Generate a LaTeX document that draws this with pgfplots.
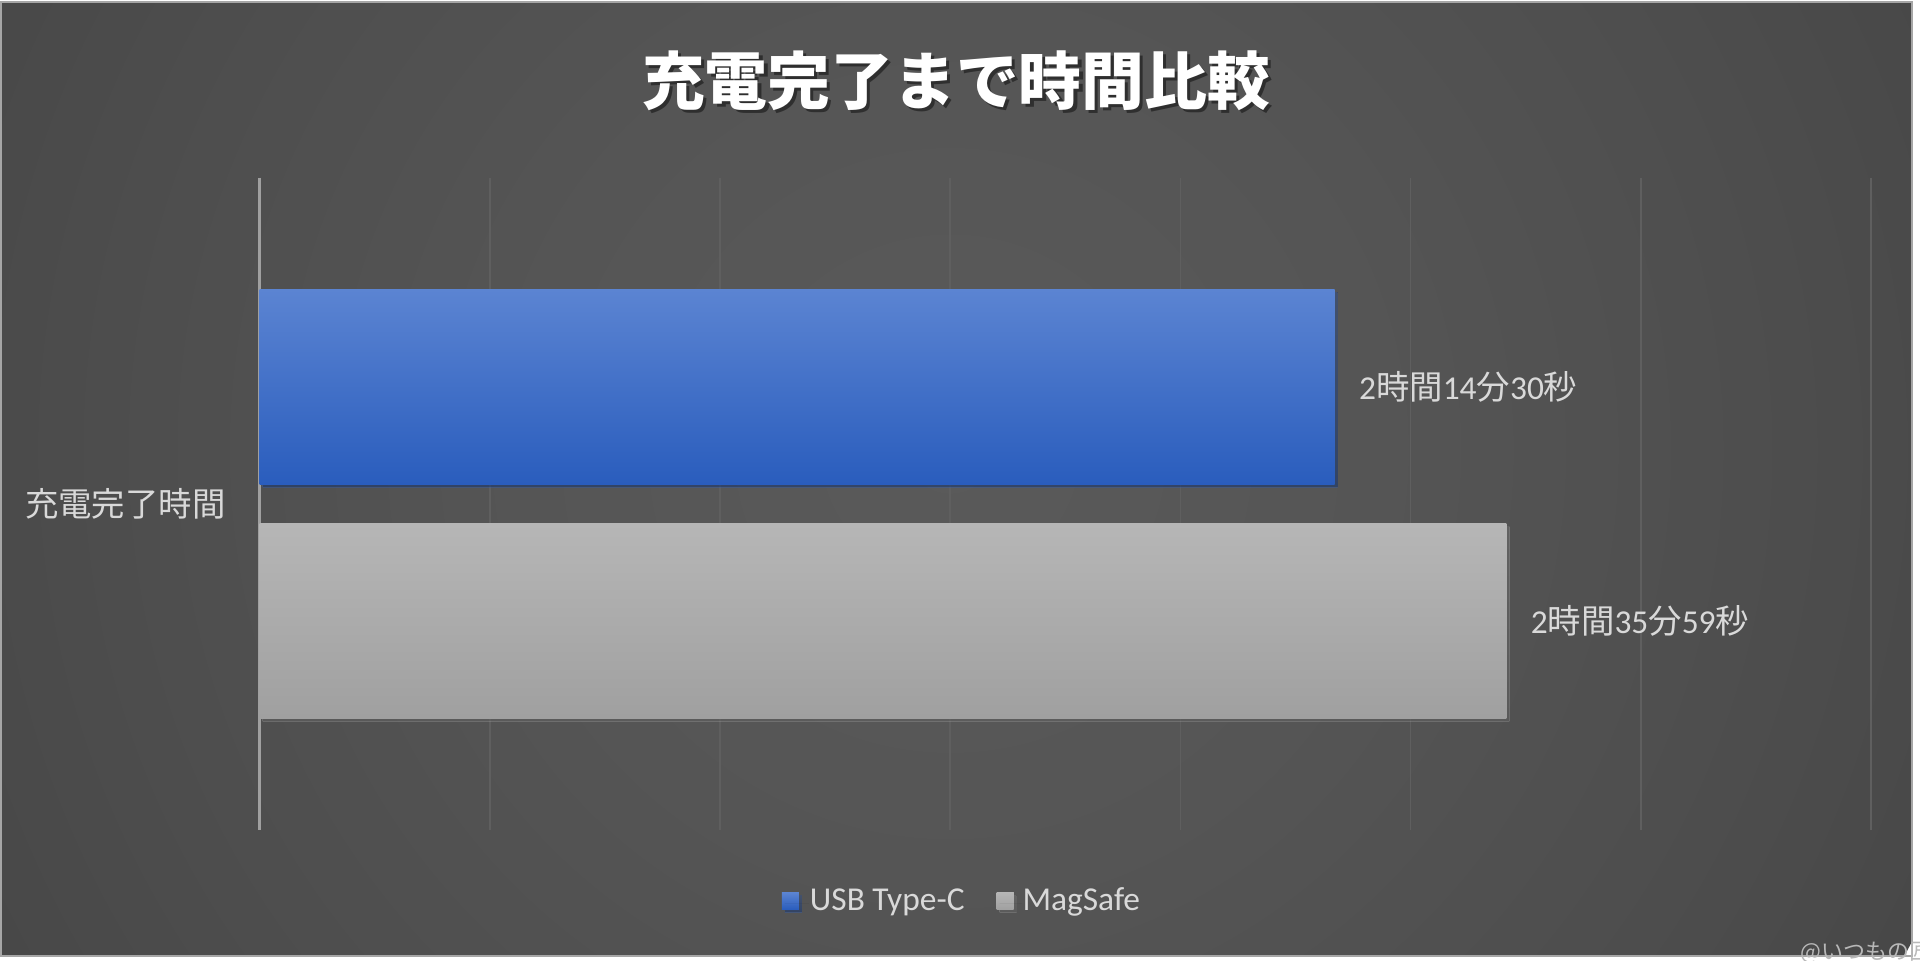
\documentclass[border=0pt]{standalone}
\usepackage{pgfplots}
\pgfplotsset{compat=1.18}
\usepackage{fontspec}
\setmainfont{Carlito}
\newfontfamily\cjk{Noto Sans CJK JP}
\usetikzlibrary{shadows}
\definecolor{bgA}{HTML}{5A5A5A}
\definecolor{bgB}{HTML}{555555}
\definecolor{bgC}{HTML}{4E4E4E}
\definecolor{bgD}{HTML}{434343}
\definecolor{bgE}{HTML}{353535}
\definecolor{bgF}{HTML}{2A2A2A}
\definecolor{bordergray}{HTML}{A6A6A6}
\definecolor{gridgray}{HTML}{5F5F5F}
\definecolor{axisgray}{HTML}{A0A0A0}
\definecolor{labelgray}{HTML}{D9D9D9}
\definecolor{blueTop}{HTML}{5B84D2}
\definecolor{blueBot}{HTML}{2A5DBD}
\definecolor{usbblue}{HTML}{3E6FCC}
\definecolor{grayTop}{HTML}{B6B6B6}
\definecolor{grayBot}{HTML}{A0A0A0}
\definecolor{magGray}{HTML}{AAAAAA}
\definecolor{wmgray}{HTML}{B8B8B8}
\pgfdeclareradialshading{bgshade}{\pgfpoint{0bp}{0bp}}{color(0bp)=(bgA); color(10bp)=(bgB); color(18.5bp)=(bgC); color(30bp)=(bgD); color(40bp)=(bgE); color(50bp)=(bgF)}
\newcommand{\lblfont}{\fontsize{16.7}{20}\selectfont}
\begin{document}
\begin{tikzpicture}
\useasboundingbox (0,0) rectangle (960pt,-480.5pt);
\fill[white] (0,0) rectangle (960pt,-480.5pt);
\begin{scope}
\clip (0.5pt,-1pt) rectangle (956pt,-478pt);
\shade[shading=bgshade] (475pt,-225pt) circle (540pt);
\end{scope}
\draw[bordergray, line width=1pt] (0.5pt,-1pt) rectangle (956pt,-478pt);
% title with soft shadow
\node[text=black, opacity=0.45, font=\cjk\bfseries\fontsize{31.4}{36}\selectfont] at (479.6pt,-42.1pt) {充電完了まで時間比較};
\node[text=white, font=\cjk\bfseries\fontsize{31.4}{36}\selectfont] at (478pt,-40.5pt) {充電完了まで時間比較};
\begin{axis}[
  at={(129.8pt,-415pt)}, anchor=south west,
  scale only axis, width=805.7pt, height=326.2pt,
  xmin=0, xmax=0.14, ymin=-1.395, ymax=1.395, y dir=reverse,
  axis line style={draw=none},
  xtick={0.02,0.04,0.06,0.08,0.1,0.12,0.14}, xticklabels={},
  xmajorgrids, grid style={gridgray, line width=0.75pt},
  extra x ticks={0}, extra x tick labels={},
  extra x tick style={xmajorgrids=true, grid style={axisgray, line width=1.5pt}},
  ytick={0}, yticklabels={{\cjk 充電完了時間}},
  yticklabel style={text=labelgray, font=\lblfont, inner sep=0pt, xshift=-16.8pt},
  major tick length=0pt,
  clip=false,
  legend columns=2,
  legend style={at={(0.4365,-0.1088)}, anchor=center, draw=none, fill=none,
    text=labelgray, font=\lblfont,
    /tikz/every even column/.append style={column sep=14pt}},
]
\addplot[xbar, bar width=0.833, bar shift=0pt, draw=none,
  top color=blueTop, bottom color=blueBot,
  drop shadow={shadow xshift=1.5pt, shadow yshift=-1.5pt, fill=black, opacity=0.35},
  nodes near coords={2{\cjk 時間}14{\cjk 分}30{\cjk 秒}},
  nodes near coords style={anchor=west, inner sep=0pt, xshift=12pt, text=labelgray, font=\lblfont},
  legend image code/.code={\fill[usbblue] (0pt,-4.25pt) rectangle (8.5pt,4.25pt); \path (0pt,0pt) -- (12pt,0pt);}]
  coordinates {(0.093403,-0.5)};
\addlegendentry{USB Type-C}
\addplot[xbar, bar width=0.833, bar shift=0pt, draw=none,
  top color=grayTop, bottom color=grayBot,
  drop shadow={shadow xshift=1.5pt, shadow yshift=-1.5pt, fill=black, opacity=0.35},
  nodes near coords={2{\cjk 時間}35{\cjk 分}59{\cjk 秒}},
  nodes near coords style={anchor=west, inner sep=0pt, xshift=12pt, text=labelgray, font=\lblfont},
  legend image code/.code={\fill[magGray] (0pt,-4.25pt) rectangle (8.5pt,4.25pt); \path (0pt,0pt) -- (11pt,0pt);}]
  coordinates {(0.108322,0.5)};
\addlegendentry{MagSafe}
\end{axis}
\node[anchor=west, inner sep=0pt, text=wmgray, font=\cjk\fontsize{11}{13}\selectfont] at (900pt,-476.5pt) {@いつもの匠};
\end{tikzpicture}
\end{document}
